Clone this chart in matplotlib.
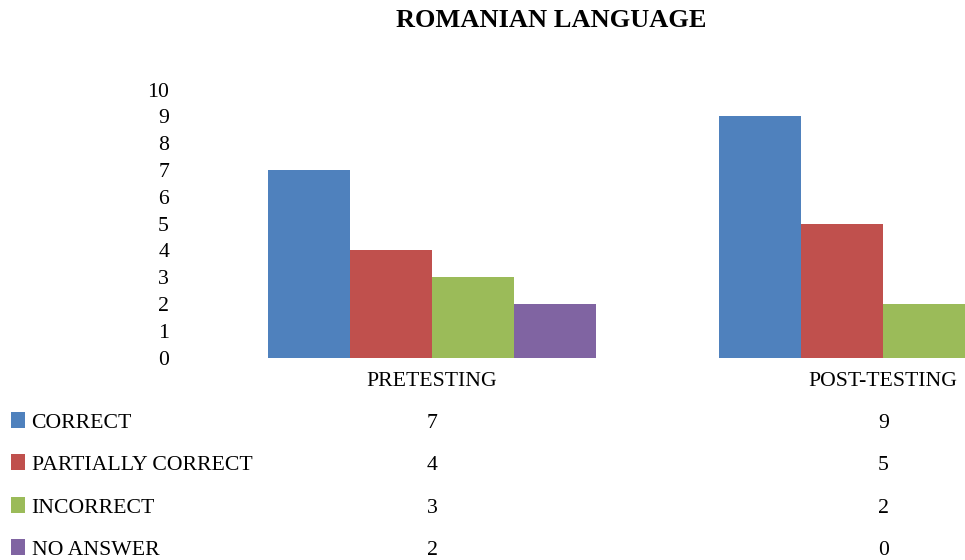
import matplotlib
matplotlib.use("Agg")
import matplotlib.pyplot as plt
import matplotlib.transforms as mtransforms
from matplotlib.patches import Rectangle
import numpy as np

# Data
categories = ["PRETESTING", "POST-TESTING"]
series = ["CORRECT", "PARTIALLY CORRECT", "INCORRECT", "NO ANSWER"]
correct = [7, 9]
partially = [4, 5]
incorrect = [3, 2]
no_answer = [2, 0]
colors = ["#4F81BD", "#C0504D", "#9BBB59", "#8064A2"]

values = [correct, partially, incorrect, no_answer]

plt.rcParams["font.family"] = ["Liberation Serif", "DejaVu Serif"]

fig = plt.figure(figsize=(9.65, 5.6), dpi=100)
ax = fig.add_axes([0.214, 0.3613, 0.935, 0.4788])

x = np.arange(len(categories))
width = 0.182
for i, (vals, c) in enumerate(zip(values, colors)):
    ax.bar(x + (i - 1.5) * width, vals, width, color=c, linewidth=0)

ax.set_xlim(-0.5, 1.5)
ax.set_ylim(0, 10)
ax.set_yticks(range(0, 11))
ax.set_xticks(x)
ax.set_xticklabels(categories)
ax.tick_params(axis="both", length=0, labelsize=15.7)
ax.tick_params(axis="y", pad=27)
ax.tick_params(axis="x", pad=10)
for s in ax.spines.values():
    s.set_visible(False)

fig.text(0.571, 0.963, "ROMANIAN LANGUAGE", ha="center", va="center",
         fontsize=19, fontweight="bold")

# data table below the chart (baselines in pixels from top)
row_base = [428, 470, 513, 555]
trans = mtransforms.blended_transform_factory(ax.transData, fig.transFigure)
for name, vals, c, yp in zip(series, values, colors, row_base):
    yf = 1 - yp / 560
    fig.patches.append(Rectangle((11 / 965, yf), 14 / 965, 16 / 560,
                                 transform=fig.transFigure, facecolor=c,
                                 edgecolor="none"))
    fig.text(31.5 / 965, yf, name, ha="left", va="baseline", fontsize=15.7)
    for xi, v in zip(x, vals):
        ax.text(xi, yf, str(v), transform=trans, ha="center", va="baseline",
                fontsize=15.7, clip_on=False)

fig.savefig("out.png", dpi=100)
